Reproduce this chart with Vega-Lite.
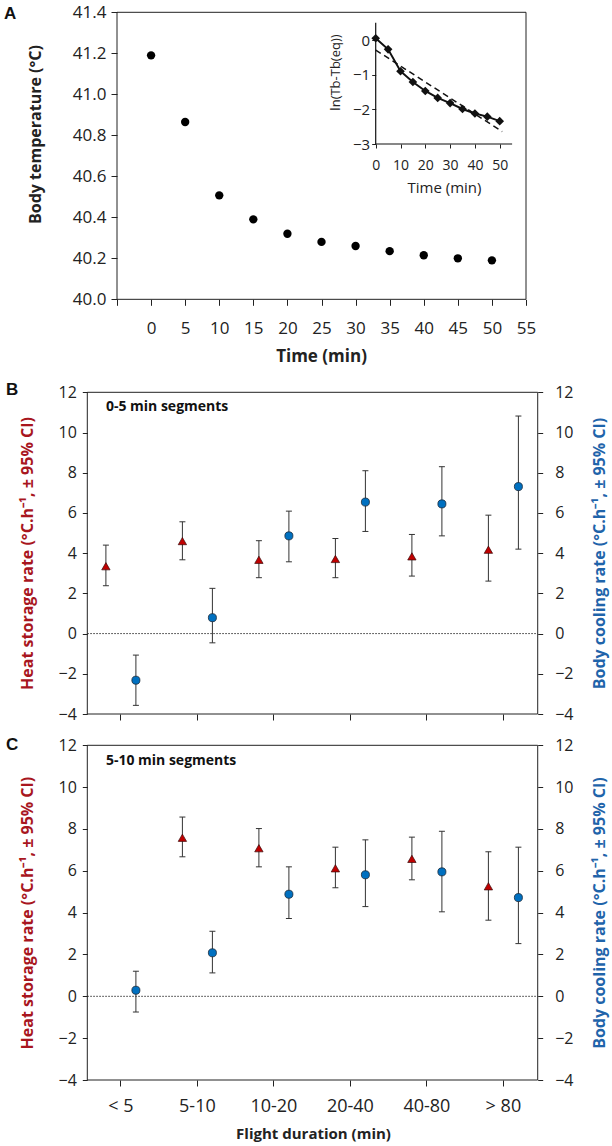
{
  "$schema": "https://vega.github.io/schema/vega-lite/v6.json",
  "background": "white",
  "width": 612,
  "height": 1146,
  "autosize": {"type": "none"},
  "padding": 0,
  "datasets": {
    "a": [
      {"t": 0, "temp": 41.19}, {"t": 5, "temp": 40.865}, {"t": 10, "temp": 40.507},
      {"t": 15, "temp": 40.39}, {"t": 20, "temp": 40.32}, {"t": 25, "temp": 40.28},
      {"t": 30, "temp": 40.26}, {"t": 35, "temp": 40.235}, {"t": 40, "temp": 40.215},
      {"t": 45, "temp": 40.2}, {"t": 50, "temp": 40.19}
    ],
    "inset": [
      {"t": 0, "ln": 0.05}, {"t": 5, "ln": -0.27}, {"t": 10, "ln": -0.9},
      {"t": 15, "ln": -1.21}, {"t": 20, "ln": -1.47}, {"t": 25, "ln": -1.67},
      {"t": 30, "ln": -1.82}, {"t": 35, "ln": -1.99}, {"t": 40, "ln": -2.12},
      {"t": 45, "ln": -2.21}, {"t": 50, "ln": -2.34}
    ],
    "fit": [{"t": 0, "ln": -0.29}, {"t": 51, "ln": -2.64}],
    "b": [
      {"cat": "< 5", "series": "heat", "val": 3.35, "lo": 2.38, "hi": 4.4},
      {"cat": "5-10", "series": "heat", "val": 4.6, "lo": 3.67, "hi": 5.56},
      {"cat": "10-20", "series": "heat", "val": 3.67, "lo": 2.78, "hi": 4.62},
      {"cat": "20-40", "series": "heat", "val": 3.71, "lo": 2.78, "hi": 4.73},
      {"cat": "40-80", "series": "heat", "val": 3.84, "lo": 2.86, "hi": 4.93},
      {"cat": "> 80", "series": "heat", "val": 4.17, "lo": 2.61, "hi": 5.89},
      {"cat": "< 5", "series": "cool", "val": -2.32, "lo": -3.57, "hi": -1.07},
      {"cat": "5-10", "series": "cool", "val": 0.79, "lo": -0.46, "hi": 2.25},
      {"cat": "10-20", "series": "cool", "val": 4.86, "lo": 3.57, "hi": 6.09},
      {"cat": "20-40", "series": "cool", "val": 6.54, "lo": 5.08, "hi": 8.1},
      {"cat": "40-80", "series": "cool", "val": 6.45, "lo": 4.86, "hi": 8.3},
      {"cat": "> 80", "series": "cool", "val": 7.31, "lo": 4.2, "hi": 10.82}
    ],
    "c": [
      {"cat": "5-10", "series": "heat", "val": 7.58, "lo": 6.67, "hi": 8.57},
      {"cat": "10-20", "series": "heat", "val": 7.08, "lo": 6.19, "hi": 8.02},
      {"cat": "20-40", "series": "heat", "val": 6.12, "lo": 5.19, "hi": 7.13},
      {"cat": "40-80", "series": "heat", "val": 6.57, "lo": 5.57, "hi": 7.61},
      {"cat": "> 80", "series": "heat", "val": 5.26, "lo": 3.64, "hi": 6.91},
      {"cat": "< 5", "series": "cool", "val": 0.29, "lo": -0.75, "hi": 1.2},
      {"cat": "5-10", "series": "cool", "val": 2.08, "lo": 1.12, "hi": 3.11},
      {"cat": "10-20", "series": "cool", "val": 4.88, "lo": 3.72, "hi": 6.19},
      {"cat": "20-40", "series": "cool", "val": 5.81, "lo": 4.29, "hi": 7.48},
      {"cat": "40-80", "series": "cool", "val": 5.95, "lo": 4.04, "hi": 7.89},
      {"cat": "> 80", "series": "cool", "val": 4.72, "lo": 2.52, "hi": 7.13}
    ]
  },
  "config": {
    "font": "Open Sans",
    "view": {"stroke": null},
    "axis": {"grid": false, "labelFont": "Open Sans", "titleFont": "Open Sans", "domainColor": "#222", "tickColor": "#222", "labelColor": "#222", "titleColor": "#222", "labelFlush": false, "labelOverlap": false}
  },
  "layer": [
    {
      "data": {"values": [{}]},
      "mark": {"type": "rect", "filled": false, "color": "#222", "strokeWidth": 1},
      "encoding": {
        "x": {"datum": -5, "type": "quantitative", "scale": {"domain": [-22.164, 67.616], "nice": false, "zero": false}, "axis": null},
        "x2": {"datum": 55},
        "y": {"datum": 40, "type": "quantitative", "scale": {"domain": [35.87, 41.46], "nice": false, "zero": false}, "axis": null},
        "y2": {"datum": 41.4}
      }
    },
    {
      "data": {"name": "a"},
      "mark": {"type": "point", "filled": true, "color": "black", "size": 70, "opacity": 1},
      "encoding": {
        "x": {"field": "t", "type": "quantitative", "scale": {"domain": [-22.164, 67.616], "nice": false, "zero": false},
          "axis": {"orient": "bottom", "offset": -846.7, "domain": false, "values": [-5, 0, 5, 10, 15, 20, 25, 30, 35, 40, 45, 50, 55], "labelExpr": "datum.value < 0 ? '' : datum.label", "tickSize": 6, "labelFontSize": 17, "labelPadding": 15, "title": "Time (min)", "titleFontSize": 17, "titleFontWeight": "bold", "titleX": 321, "titleY": 56.7, "titleBaseline": "middle", "titleAlign": "center"}},
        "y": {"field": "temp", "type": "quantitative", "scale": {"domain": [35.87, 41.46], "nice": false, "zero": false},
          "axis": {"orient": "left", "offset": -117, "domain": false, "values": [40, 40.2, 40.4, 40.6, 40.8, 41, 41.2, 41.4], "format": ".1f", "tickSize": 6, "labelFontSize": 17, "labelPadding": 5, "title": "Body temperature (°C)", "titleFontSize": 16, "titleFontWeight": "bold", "titleAngle": 270, "titleBaseline": "middle", "titleAlign": "center", "titleX": -82, "titleY": 134}}
      }
    },
    {
      "data": {"values": [{}]},
      "mark": {"type": "rule", "color": "#111", "strokeWidth": 1.2},
      "encoding": {
        "x": {"datum": 0, "type": "quantitative", "scale": {"domain": [-151.49, 95.28], "nice": false, "zero": false}, "axis": null},
        "y": {"datum": -3, "type": "quantitative", "scale": {"domain": [-31.9, 1.154], "nice": false, "zero": false}, "axis": null},
        "y2": {"datum": 0.5}
      }
    },
    {
      "data": {"values": [{}]},
      "mark": {"type": "rule", "color": "#111", "strokeWidth": 1.2},
      "encoding": {
        "x": {"datum": 0, "type": "quantitative", "scale": {"domain": [-151.49, 95.28], "nice": false, "zero": false}, "axis": null},
        "x2": {"datum": 55},
        "y": {"datum": -3, "type": "quantitative", "scale": {"domain": [-31.9, 1.154], "nice": false, "zero": false}, "axis": null}
      }
    },
    {
      "data": {"name": "fit"},
      "mark": {"type": "line", "color": "#111", "strokeWidth": 1.5, "strokeDash": [6, 4]},
      "encoding": {
        "x": {"field": "t", "type": "quantitative", "scale": {"domain": [-151.49, 95.28], "nice": false, "zero": false}, "axis": null},
        "y": {"field": "ln", "type": "quantitative", "scale": {"domain": [-31.9, 1.154], "nice": false, "zero": false}, "axis": null}
      }
    },
    {
      "data": {"name": "inset"},
      "mark": {"type": "line", "color": "#111", "strokeWidth": 2},
      "encoding": {
        "x": {"field": "t", "type": "quantitative", "scale": {"domain": [-151.49, 95.28], "nice": false, "zero": false},
          "axis": {"orient": "bottom", "offset": -1002, "values": [0, 10, 20, 30, 40, 50], "domain": false, "tickSize": 4, "labelFontSize": 14, "labelPadding": 10, "title": "Time (min)", "titleFontSize": 15, "titleFontWeight": "normal", "titleX": 444, "titleY": 43, "titleBaseline": "middle", "titleAlign": "center"}},
        "y": {"field": "ln", "type": "quantitative", "scale": {"domain": [-31.9, 1.154], "nice": false, "zero": false},
          "axis": {"orient": "left", "offset": -375.7, "values": [0, -1, -2, -3], "domain": false, "tickSize": 4, "labelFontSize": 15, "labelPadding": 2, "title": "ln(Tb-Tb(eq))", "titleFontSize": 13, "titleFontWeight": "normal", "titleAngle": 270, "titleBaseline": "middle", "titleAlign": "center", "titleX": -40, "titleY": 72}}
      }
    },
    {
      "data": {"name": "inset"},
      "mark": {"type": "point", "shape": "diamond", "size": 75, "filled": true, "color": "#111", "opacity": 1},
      "encoding": {
        "x": {"field": "t", "type": "quantitative", "scale": {"domain": [-151.49, 95.28], "nice": false, "zero": false}, "axis": null},
        "y": {"field": "ln", "type": "quantitative", "scale": {"domain": [-31.9, 1.154], "nice": false, "zero": false}, "axis": null}
      }
    },
    {
      "data": {"values": [{}]},
      "mark": {"type": "text", "text": "A", "align": "left", "baseline": "middle", "font": "Liberation Sans", "fontWeight": "bold", "fontSize": 17, "color": "#111"},
      "encoding": {
        "x": {"datum": -21.58, "type": "quantitative", "scale": {"domain": [-22.164, 67.616], "nice": false, "zero": false}, "axis": null},
        "y": {"datum": 41.392, "type": "quantitative", "scale": {"domain": [35.87, 41.46], "nice": false, "zero": false}, "axis": null}
      }
    },

    {
      "data": {"values": [{}]},
      "mark": {"type": "rect", "filled": false, "color": "#222", "strokeWidth": 1},
      "encoding": {
        "x": {"datum": 0, "type": "quantitative", "scale": {"domain": [-1.1629, 6.9895], "nice": false, "zero": false}, "axis": null},
        "x2": {"datum": 6},
        "y": {"datum": -4, "type": "quantitative", "scale": {"domain": [-25.486, 31.512], "nice": false, "zero": false}, "axis": null},
        "y2": {"datum": 12}
      }
    },
    {
      "data": {"values": [{}]},
      "mark": {"type": "rule", "color": "#333", "strokeDash": [1.5, 1.5], "strokeWidth": 1},
      "encoding": {
        "x": {"datum": 0, "type": "quantitative", "scale": {"domain": [-1.1629, 6.9895], "nice": false, "zero": false}, "axis": null},
        "x2": {"datum": 6},
        "y": {"datum": 0, "type": "quantitative", "scale": {"domain": [-25.486, 31.512], "nice": false, "zero": false},
          "axis": {"orient": "left", "offset": -87.3, "domain": false, "values": [-4, -2, 0, 2, 4, 6, 8, 10, 12], "tickSize": 5, "labelFontSize": 16, "labelPadding": 6, "title": "Heat storage rate (°C.h⁻¹, ± 95% CI)", "titleColor": "#A8161E", "titleFontWeight": "bold", "titleFontSize": 16, "titleAngle": 270, "titleBaseline": "middle", "titleAlign": "center", "titleX": -60.3, "titleY": 553}}
      }
    },
    {
      "data": {"values": [{}]},
      "mark": {"type": "rule", "opacity": 0},
      "encoding": {
        "x": {"datum": 0, "type": "quantitative", "scale": {"domain": [-1.1629, 6.9895], "nice": false, "zero": false}, "axis": null},
        "x2": {"datum": 6},
        "y": {"datum": 0, "type": "quantitative", "scale": {"domain": [-25.486, 31.512], "nice": false, "zero": false},
          "axis": {"orient": "right", "offset": -74.3, "domain": false, "values": [-4, -2, 0, 2, 4, 6, 8, 10, 12], "tickSize": 5, "labelFontSize": 16, "labelPadding": 12, "title": "Body cooling rate (°C.h⁻¹, ± 95% CI)", "titleColor": "#1F64AA", "titleFontWeight": "bold", "titleFontSize": 16, "titleAngle": 270, "titleBaseline": "middle", "titleAlign": "center", "titleX": 61.3, "titleY": 553}}
      }
    },
    {
      "data": {"name": "b"},
      "transform": [{"filter": "datum.series === 'heat'"}],
      "mark": {"type": "rule", "color": "#333", "strokeWidth": 1, "xOffset": -15},
      "encoding": {
        "x": {"field": "cat", "type": "nominal", "scale": {"type": "band", "domain": ["< 5", "5-10", "10-20", "20-40", "40-80", "> 80"], "paddingInner": 0, "paddingOuter": 1.0762, "align": 0.5402},
          "axis": {"orient": "bottom", "offset": -432, "domain": false, "labels": false, "title": null, "tickSize": 6}},
        "y": {"field": "lo", "type": "quantitative", "scale": {"domain": [-25.486, 31.512], "nice": false, "zero": false}, "axis": null},
        "y2": {"field": "hi"}
      }
    },
    {
      "data": {"name": "b"},
      "transform": [{"filter": "datum.series === 'cool'"}],
      "mark": {"type": "rule", "color": "#333", "strokeWidth": 1, "xOffset": 15},
      "encoding": {
        "x": {"field": "cat", "type": "nominal", "scale": {"type": "band", "domain": ["< 5", "5-10", "10-20", "20-40", "40-80", "> 80"], "paddingInner": 0, "paddingOuter": 1.0762, "align": 0.5402}, "axis": null},
        "y": {"field": "lo", "type": "quantitative", "scale": {"domain": [-25.486, 31.512], "nice": false, "zero": false}, "axis": null},
        "y2": {"field": "hi"}
      }
    },
    {
      "data": {"name": "b"},
      "transform": [{"filter": "datum.series === 'heat'"}],
      "mark": {"type": "tick", "color": "#333", "size": 6, "thickness": 1, "opacity": 1, "xOffset": -15},
      "encoding": {
        "x": {"field": "cat", "type": "nominal", "scale": {"type": "band", "domain": ["< 5", "5-10", "10-20", "20-40", "40-80", "> 80"], "paddingInner": 0, "paddingOuter": 1.0762, "align": 0.5402}, "axis": null},
        "y": {"field": "lo", "type": "quantitative", "scale": {"domain": [-25.486, 31.512], "nice": false, "zero": false}, "axis": null}
      }
    },
    {
      "data": {"name": "b"},
      "transform": [{"filter": "datum.series === 'heat'"}],
      "mark": {"type": "tick", "color": "#333", "size": 6, "thickness": 1, "opacity": 1, "xOffset": -15},
      "encoding": {
        "x": {"field": "cat", "type": "nominal", "scale": {"type": "band", "domain": ["< 5", "5-10", "10-20", "20-40", "40-80", "> 80"], "paddingInner": 0, "paddingOuter": 1.0762, "align": 0.5402}, "axis": null},
        "y": {"field": "hi", "type": "quantitative", "scale": {"domain": [-25.486, 31.512], "nice": false, "zero": false}, "axis": null}
      }
    },
    {
      "data": {"name": "b"},
      "transform": [{"filter": "datum.series === 'cool'"}],
      "mark": {"type": "tick", "color": "#333", "size": 6, "thickness": 1, "opacity": 1, "xOffset": 15},
      "encoding": {
        "x": {"field": "cat", "type": "nominal", "scale": {"type": "band", "domain": ["< 5", "5-10", "10-20", "20-40", "40-80", "> 80"], "paddingInner": 0, "paddingOuter": 1.0762, "align": 0.5402}, "axis": null},
        "y": {"field": "lo", "type": "quantitative", "scale": {"domain": [-25.486, 31.512], "nice": false, "zero": false}, "axis": null}
      }
    },
    {
      "data": {"name": "b"},
      "transform": [{"filter": "datum.series === 'cool'"}],
      "mark": {"type": "tick", "color": "#333", "size": 6, "thickness": 1, "opacity": 1, "xOffset": 15},
      "encoding": {
        "x": {"field": "cat", "type": "nominal", "scale": {"type": "band", "domain": ["< 5", "5-10", "10-20", "20-40", "40-80", "> 80"], "paddingInner": 0, "paddingOuter": 1.0762, "align": 0.5402}, "axis": null},
        "y": {"field": "hi", "type": "quantitative", "scale": {"domain": [-25.486, 31.512], "nice": false, "zero": false}, "axis": null}
      }
    },
    {
      "data": {"name": "b"},
      "transform": [{"filter": "datum.series === 'heat'"}],
      "mark": {"type": "point", "shape": "triangle-up", "filled": true, "fill": "#C00000", "stroke": "#3a0a0a", "strokeWidth": 0.7, "size": 70, "opacity": 1, "xOffset": -15},
      "encoding": {
        "x": {"field": "cat", "type": "nominal", "scale": {"type": "band", "domain": ["< 5", "5-10", "10-20", "20-40", "40-80", "> 80"], "paddingInner": 0, "paddingOuter": 1.0762, "align": 0.5402}, "axis": null},
        "y": {"field": "val", "type": "quantitative", "scale": {"domain": [-25.486, 31.512], "nice": false, "zero": false}, "axis": null}
      }
    },
    {
      "data": {"name": "b"},
      "transform": [{"filter": "datum.series === 'cool'"}],
      "mark": {"type": "point", "shape": "circle", "filled": true, "fill": "#0070C0", "stroke": "#1a2a3a", "strokeWidth": 0.8, "size": 65, "opacity": 1, "xOffset": 15},
      "encoding": {
        "x": {"field": "cat", "type": "nominal", "scale": {"type": "band", "domain": ["< 5", "5-10", "10-20", "20-40", "40-80", "> 80"], "paddingInner": 0, "paddingOuter": 1.0762, "align": 0.5402}, "axis": null},
        "y": {"field": "val", "type": "quantitative", "scale": {"domain": [-25.486, 31.512], "nice": false, "zero": false}, "axis": null}
      }
    },
    {
      "data": {"values": [{}]},
      "mark": {"type": "text", "text": "0-5 min segments", "align": "left", "baseline": "middle", "fontWeight": "bold", "fontSize": 14, "color": "#111", "xOffset": -15},
      "encoding": {
        "x": {"datum": "< 5", "type": "nominal", "scale": {"type": "band", "domain": ["< 5", "5-10", "10-20", "20-40", "40-80", "> 80"], "paddingInner": 0, "paddingOuter": 1.0762, "align": 0.5402}, "axis": null},
        "y": {"datum": 11.25, "type": "quantitative", "scale": {"domain": [-25.486, 31.512], "nice": false, "zero": false}, "axis": null}
      }
    },
    {
      "data": {"values": [{}]},
      "mark": {"type": "text", "text": "B", "align": "left", "baseline": "middle", "font": "Liberation Sans", "fontWeight": "bold", "fontSize": 17, "color": "#111"},
      "encoding": {
        "x": {"datum": -1.083, "type": "quantitative", "scale": {"domain": [-1.1629, 6.9895], "nice": false, "zero": false}, "axis": null},
        "y": {"datum": 12.115, "type": "quantitative", "scale": {"domain": [-25.486, 31.512], "nice": false, "zero": false}, "axis": null}
      }
    },

    {
      "data": {"values": [{}]},
      "mark": {"type": "rect", "filled": false, "color": "#222", "strokeWidth": 1},
      "encoding": {
        "x": {"datum": 0, "type": "quantitative", "scale": {"domain": [-1.1629, 6.9895], "nice": false, "zero": false}, "axis": null},
        "x2": {"datum": 6},
        "y": {"datum": -4, "type": "quantitative", "scale": {"domain": [-7.155, 47.628], "nice": false, "zero": false}, "axis": null},
        "y2": {"datum": 12}
      }
    },
    {
      "data": {"values": [{}]},
      "mark": {"type": "rule", "color": "#333", "strokeDash": [1.5, 1.5], "strokeWidth": 1},
      "encoding": {
        "x": {"datum": 0, "type": "quantitative", "scale": {"domain": [-1.1629, 6.9895], "nice": false, "zero": false}, "axis": null},
        "x2": {"datum": 6},
        "y": {"datum": 0, "type": "quantitative", "scale": {"domain": [-7.155, 47.628], "nice": false, "zero": false},
          "axis": {"orient": "left", "offset": -87.3, "domain": false, "values": [-4, -2, 0, 2, 4, 6, 8, 10, 12], "tickSize": 5, "labelFontSize": 16, "labelPadding": 6, "title": "Heat storage rate (°C.h⁻¹, ± 95% CI)", "titleColor": "#A8161E", "titleFontWeight": "bold", "titleFontSize": 16, "titleAngle": 270, "titleBaseline": "middle", "titleAlign": "center", "titleX": -60.3, "titleY": 912.6}}
      }
    },
    {
      "data": {"values": [{}]},
      "mark": {"type": "rule", "opacity": 0},
      "encoding": {
        "x": {"datum": 0, "type": "quantitative", "scale": {"domain": [-1.1629, 6.9895], "nice": false, "zero": false}, "axis": null},
        "x2": {"datum": 6},
        "y": {"datum": 0, "type": "quantitative", "scale": {"domain": [-7.155, 47.628], "nice": false, "zero": false},
          "axis": {"orient": "right", "offset": -74.3, "domain": false, "values": [-4, -2, 0, 2, 4, 6, 8, 10, 12], "tickSize": 5, "labelFontSize": 16, "labelPadding": 12, "title": "Body cooling rate (°C.h⁻¹, ± 95% CI)", "titleColor": "#1F64AA", "titleFontWeight": "bold", "titleFontSize": 16, "titleAngle": 270, "titleBaseline": "middle", "titleAlign": "center", "titleX": 61.3, "titleY": 912.6}}
      }
    },
    {
      "data": {"name": "c"},
      "transform": [{"filter": "datum.series === 'heat'"}],
      "mark": {"type": "rule", "color": "#333", "strokeWidth": 1, "xOffset": -15},
      "encoding": {
        "x": {"field": "cat", "type": "nominal", "scale": {"type": "band", "domain": ["< 5", "5-10", "10-20", "20-40", "40-80", "> 80"], "paddingInner": 0, "paddingOuter": 1.0762, "align": 0.5402},
          "axis": {"orient": "bottom", "offset": -66, "domain": false, "tickSize": 6, "labelAngle": 0, "labelFontSize": 18, "labelPadding": 11, "title": "Flight duration (min)", "titleFontSize": 15, "titleFontWeight": "bold", "titleX": 313, "titleY": 53.3, "titleBaseline": "middle", "titleAlign": "center"}},
        "y": {"field": "lo", "type": "quantitative", "scale": {"domain": [-7.155, 47.628], "nice": false, "zero": false}, "axis": null},
        "y2": {"field": "hi"}
      }
    },
    {
      "data": {"name": "c"},
      "transform": [{"filter": "datum.series === 'cool'"}],
      "mark": {"type": "rule", "color": "#333", "strokeWidth": 1, "xOffset": 15},
      "encoding": {
        "x": {"field": "cat", "type": "nominal", "scale": {"type": "band", "domain": ["< 5", "5-10", "10-20", "20-40", "40-80", "> 80"], "paddingInner": 0, "paddingOuter": 1.0762, "align": 0.5402}, "axis": null},
        "y": {"field": "lo", "type": "quantitative", "scale": {"domain": [-7.155, 47.628], "nice": false, "zero": false}, "axis": null},
        "y2": {"field": "hi"}
      }
    },
    {
      "data": {"name": "c"},
      "transform": [{"filter": "datum.series === 'heat'"}],
      "mark": {"type": "tick", "color": "#333", "size": 6, "thickness": 1, "opacity": 1, "xOffset": -15},
      "encoding": {
        "x": {"field": "cat", "type": "nominal", "scale": {"type": "band", "domain": ["< 5", "5-10", "10-20", "20-40", "40-80", "> 80"], "paddingInner": 0, "paddingOuter": 1.0762, "align": 0.5402}, "axis": null},
        "y": {"field": "lo", "type": "quantitative", "scale": {"domain": [-7.155, 47.628], "nice": false, "zero": false}, "axis": null}
      }
    },
    {
      "data": {"name": "c"},
      "transform": [{"filter": "datum.series === 'heat'"}],
      "mark": {"type": "tick", "color": "#333", "size": 6, "thickness": 1, "opacity": 1, "xOffset": -15},
      "encoding": {
        "x": {"field": "cat", "type": "nominal", "scale": {"type": "band", "domain": ["< 5", "5-10", "10-20", "20-40", "40-80", "> 80"], "paddingInner": 0, "paddingOuter": 1.0762, "align": 0.5402}, "axis": null},
        "y": {"field": "hi", "type": "quantitative", "scale": {"domain": [-7.155, 47.628], "nice": false, "zero": false}, "axis": null}
      }
    },
    {
      "data": {"name": "c"},
      "transform": [{"filter": "datum.series === 'cool'"}],
      "mark": {"type": "tick", "color": "#333", "size": 6, "thickness": 1, "opacity": 1, "xOffset": 15},
      "encoding": {
        "x": {"field": "cat", "type": "nominal", "scale": {"type": "band", "domain": ["< 5", "5-10", "10-20", "20-40", "40-80", "> 80"], "paddingInner": 0, "paddingOuter": 1.0762, "align": 0.5402}, "axis": null},
        "y": {"field": "lo", "type": "quantitative", "scale": {"domain": [-7.155, 47.628], "nice": false, "zero": false}, "axis": null}
      }
    },
    {
      "data": {"name": "c"},
      "transform": [{"filter": "datum.series === 'cool'"}],
      "mark": {"type": "tick", "color": "#333", "size": 6, "thickness": 1, "opacity": 1, "xOffset": 15},
      "encoding": {
        "x": {"field": "cat", "type": "nominal", "scale": {"type": "band", "domain": ["< 5", "5-10", "10-20", "20-40", "40-80", "> 80"], "paddingInner": 0, "paddingOuter": 1.0762, "align": 0.5402}, "axis": null},
        "y": {"field": "hi", "type": "quantitative", "scale": {"domain": [-7.155, 47.628], "nice": false, "zero": false}, "axis": null}
      }
    },
    {
      "data": {"name": "c"},
      "transform": [{"filter": "datum.series === 'heat'"}],
      "mark": {"type": "point", "shape": "triangle-up", "filled": true, "fill": "#C00000", "stroke": "#3a0a0a", "strokeWidth": 0.7, "size": 70, "opacity": 1, "xOffset": -15},
      "encoding": {
        "x": {"field": "cat", "type": "nominal", "scale": {"type": "band", "domain": ["< 5", "5-10", "10-20", "20-40", "40-80", "> 80"], "paddingInner": 0, "paddingOuter": 1.0762, "align": 0.5402}, "axis": null},
        "y": {"field": "val", "type": "quantitative", "scale": {"domain": [-7.155, 47.628], "nice": false, "zero": false}, "axis": null}
      }
    },
    {
      "data": {"name": "c"},
      "transform": [{"filter": "datum.series === 'cool'"}],
      "mark": {"type": "point", "shape": "circle", "filled": true, "fill": "#0070C0", "stroke": "#1a2a3a", "strokeWidth": 0.8, "size": 65, "opacity": 1, "xOffset": 15},
      "encoding": {
        "x": {"field": "cat", "type": "nominal", "scale": {"type": "band", "domain": ["< 5", "5-10", "10-20", "20-40", "40-80", "> 80"], "paddingInner": 0, "paddingOuter": 1.0762, "align": 0.5402}, "axis": null},
        "y": {"field": "val", "type": "quantitative", "scale": {"domain": [-7.155, 47.628], "nice": false, "zero": false}, "axis": null}
      }
    },
    {
      "data": {"values": [{}]},
      "mark": {"type": "text", "text": "5-10 min segments", "align": "left", "baseline": "middle", "fontWeight": "bold", "fontSize": 14, "color": "#111", "xOffset": -15},
      "encoding": {
        "x": {"datum": "< 5", "type": "nominal", "scale": {"type": "band", "domain": ["< 5", "5-10", "10-20", "20-40", "40-80", "> 80"], "paddingInner": 0, "paddingOuter": 1.0762, "align": 0.5402}, "axis": null},
        "y": {"datum": 11.25, "type": "quantitative", "scale": {"domain": [-7.155, 47.628], "nice": false, "zero": false}, "axis": null}
      }
    },
    {
      "data": {"values": [{}]},
      "mark": {"type": "text", "text": "C", "align": "left", "baseline": "middle", "font": "Liberation Sans", "fontWeight": "bold", "fontSize": 17, "color": "#111"},
      "encoding": {
        "x": {"datum": -1.083, "type": "quantitative", "scale": {"domain": [-1.1629, 6.9895], "nice": false, "zero": false}, "axis": null},
        "y": {"datum": 12.038, "type": "quantitative", "scale": {"domain": [-7.155, 47.628], "nice": false, "zero": false}, "axis": null}
      }
    }
  ],
  "resolve": {"scale": {"x": "independent", "y": "independent"}, "axis": {"x": "independent", "y": "independent"}}
}
